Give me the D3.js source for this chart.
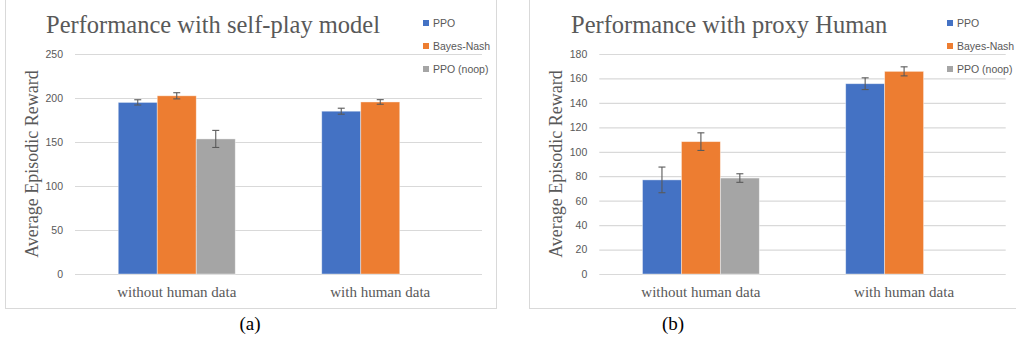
<!DOCTYPE html>
<html>
<head>
<meta charset="utf-8">
<script src="https://cdn.jsdelivr.net/npm/d3@7"></script>
<style>
  body { margin: 0; background: #fff; }
</style>
</head>
<body>
<div id="chart"></div>
<script>
// shared labels
const categories = ["without human data", "with human data"];
const seriesNames = ["PPO", "Bayes-Nash", "PPO (noop)"];
const seriesColors = ["#4472C4", "#ED7D31", "#A5A5A5"];

// (a) self-play model
const selfPlayPPO = [195, 185];
const selfPlayBayes = [202.5, 195.5];
const selfPlayNoop = [153.5, null];
const selfPlayPPOErr = [3, 3.4];
const selfPlayBayesErr = [3.5, 2.6];
const selfPlayNoopErr = [9.7, null];
const selfPlayTicks = [0, 50, 100, 150, 200, 250];

// (b) proxy human
const proxyPPO = [77, 155.7];
const proxyBayes = [108.3, 165.8];
const proxyNoop = [78.5, null];
const proxyPPOErr = [10.5, 4.8];
const proxyBayesErr = [7.2, 3.7];
const proxyNoopErr = [3.5, null];
const proxyTicks = [0, 20, 40, 60, 80, 100, 120, 140, 160, 180];

const width = 1016, height = 353;

const svg = d3.select("#chart").append("svg")
  .attr("width", width)
  .attr("height", height)
  .style("font-family", "'Liberation Serif', serif");

svg.append("rect").attr("width", width).attr("height", height).attr("fill", "#fff");

function drawPanel(p) {
  const g = svg.append("g");

  // panel frame
  g.append("rect")
    .attr("x", p.box[0] + 0.5).attr("y", -1)
    .attr("width", p.box[1] - p.box[0]).attr("height", 309.5)
    .attr("fill", "none").attr("stroke", "#d9d9d9");

  const y = d3.scaleLinear().domain([0, d3.max(p.ticks)]).range([274, 54]);
  const x0 = d3.scaleBand().domain(categories).range([p.left, p.right]);
  const x1 = d3.scaleBand().domain(seriesNames).range([0, x0.bandwidth()])
    .paddingInner(0).paddingOuter(1.109);

  // gridlines
  g.append("g")
    .attr("transform", `translate(${p.left},0)`)
    .call(d3.axisLeft(y).tickValues(p.ticks).tickSize(-(p.right - p.left)).tickFormat(""))
    .call(a => a.select(".domain").remove())
    .call(a => a.selectAll("line").attr("stroke", "#d9d9d9").attr("stroke-width", 1.2));

  // tick labels
  g.append("g")
    .attr("transform", `translate(${p.left},0)`)
    .call(d3.axisLeft(y).tickValues(p.ticks).tickSize(0).tickPadding(12))
    .call(a => a.select(".domain").remove())
    .call(a => a.selectAll("text")
      .attr("fill", "#595959")
      .style("font-family", "'Liberation Sans', sans-serif")
      .style("font-size", "10.5px"));

  // bars
  const rows = [];
  categories.forEach((c, i) => {
    p.values.forEach((vals, s) => {
      if (vals[i] != null) rows.push({ cat: c, s: s, v: vals[i], e: p.errors[s][i] });
    });
  });

  g.append("g").selectAll("rect")
    .data(rows)
    .join("rect")
      .attr("x", d => x0(d.cat) + x1(seriesNames[d.s]))
      .attr("y", d => y(d.v))
      .attr("width", x1.bandwidth())
      .attr("height", d => y(0) - y(d.v))
      .attr("fill", d => seriesColors[d.s])
      .attr("stroke", "#fff")
      .attr("stroke-opacity", 0.5)
      .attr("stroke-width", 0.8);

  // error bars
  const eb = g.append("g").attr("stroke", "#5a5a5a").attr("stroke-width", 1.1);
  rows.forEach(d => {
    const cx = x0(d.cat) + x1(seriesNames[d.s]) + x1.bandwidth() / 2;
    eb.append("line").attr("x1", cx).attr("x2", cx).attr("y1", y(d.v + d.e)).attr("y2", y(d.v - d.e));
    [d.v + d.e, d.v - d.e].forEach(t => {
      eb.append("line").attr("x1", cx - 3.5).attr("x2", cx + 3.5).attr("y1", y(t)).attr("y2", y(t));
    });
  });

  // category labels
  g.append("g").selectAll("text")
    .data(categories)
    .join("text")
      .attr("x", d => x0(d) + x0.bandwidth() / 2)
      .attr("y", 297)
      .attr("text-anchor", "middle")
      .attr("fill", "#595959")
      .style("font-size", "15px")
      .text(d => d);

  // title
  g.append("text")
    .attr("x", p.titleX).attr("y", 33)
    .attr("fill", "#595959")
    .style("font-size", "24.5px")
    .text(p.title);

  // y axis title
  g.append("text")
    .attr("transform", `translate(${p.ylabX},164) rotate(-90)`)
    .attr("text-anchor", "middle")
    .attr("fill", "#595959")
    .style("font-size", "18px")
    .text("Average Episodic Reward");

  // legend
  const lg = g.append("g").selectAll("g")
    .data(seriesNames)
    .join("g")
      .attr("transform", (d, i) => `translate(${p.legendX},${23 + i * 23})`);
  lg.append("rect").attr("x", 0).attr("y", -3).attr("width", 6).attr("height", 6)
    .attr("fill", (d, i) => seriesColors[i]);
  lg.append("text").attr("x", 10).attr("y", 3.8)
    .attr("fill", "#595959")
    .style("font-family", "'Liberation Sans', sans-serif")
    .style("font-size", "10.5px")
    .text(d => d);

  // caption
  svg.append("text")
    .attr("x", p.captionX).attr("y", 330)
    .attr("text-anchor", "middle")
    .attr("fill", "#000")
    .style("font-size", "19px")
    .text(p.caption);
}

drawPanel({
  box: [5, 496], left: 75, right: 482,
  ticks: selfPlayTicks,
  values: [selfPlayPPO, selfPlayBayes, selfPlayNoop],
  errors: [selfPlayPPOErr, selfPlayBayesErr, selfPlayNoopErr],
  title: "Performance with self-play model", titleX: 46,
  ylabX: 38, legendX: 423, caption: "(a)", captionX: 250
});

drawPanel({
  box: [529, 1030], left: 599.3, right: 1005.7,
  ticks: proxyTicks,
  values: [proxyPPO, proxyBayes, proxyNoop],
  errors: [proxyPPOErr, proxyBayesErr, proxyNoopErr],
  title: "Performance with proxy Human", titleX: 571,
  ylabX: 562, legendX: 947, caption: "(b)", captionX: 673
});
</script>
</body>
</html>
